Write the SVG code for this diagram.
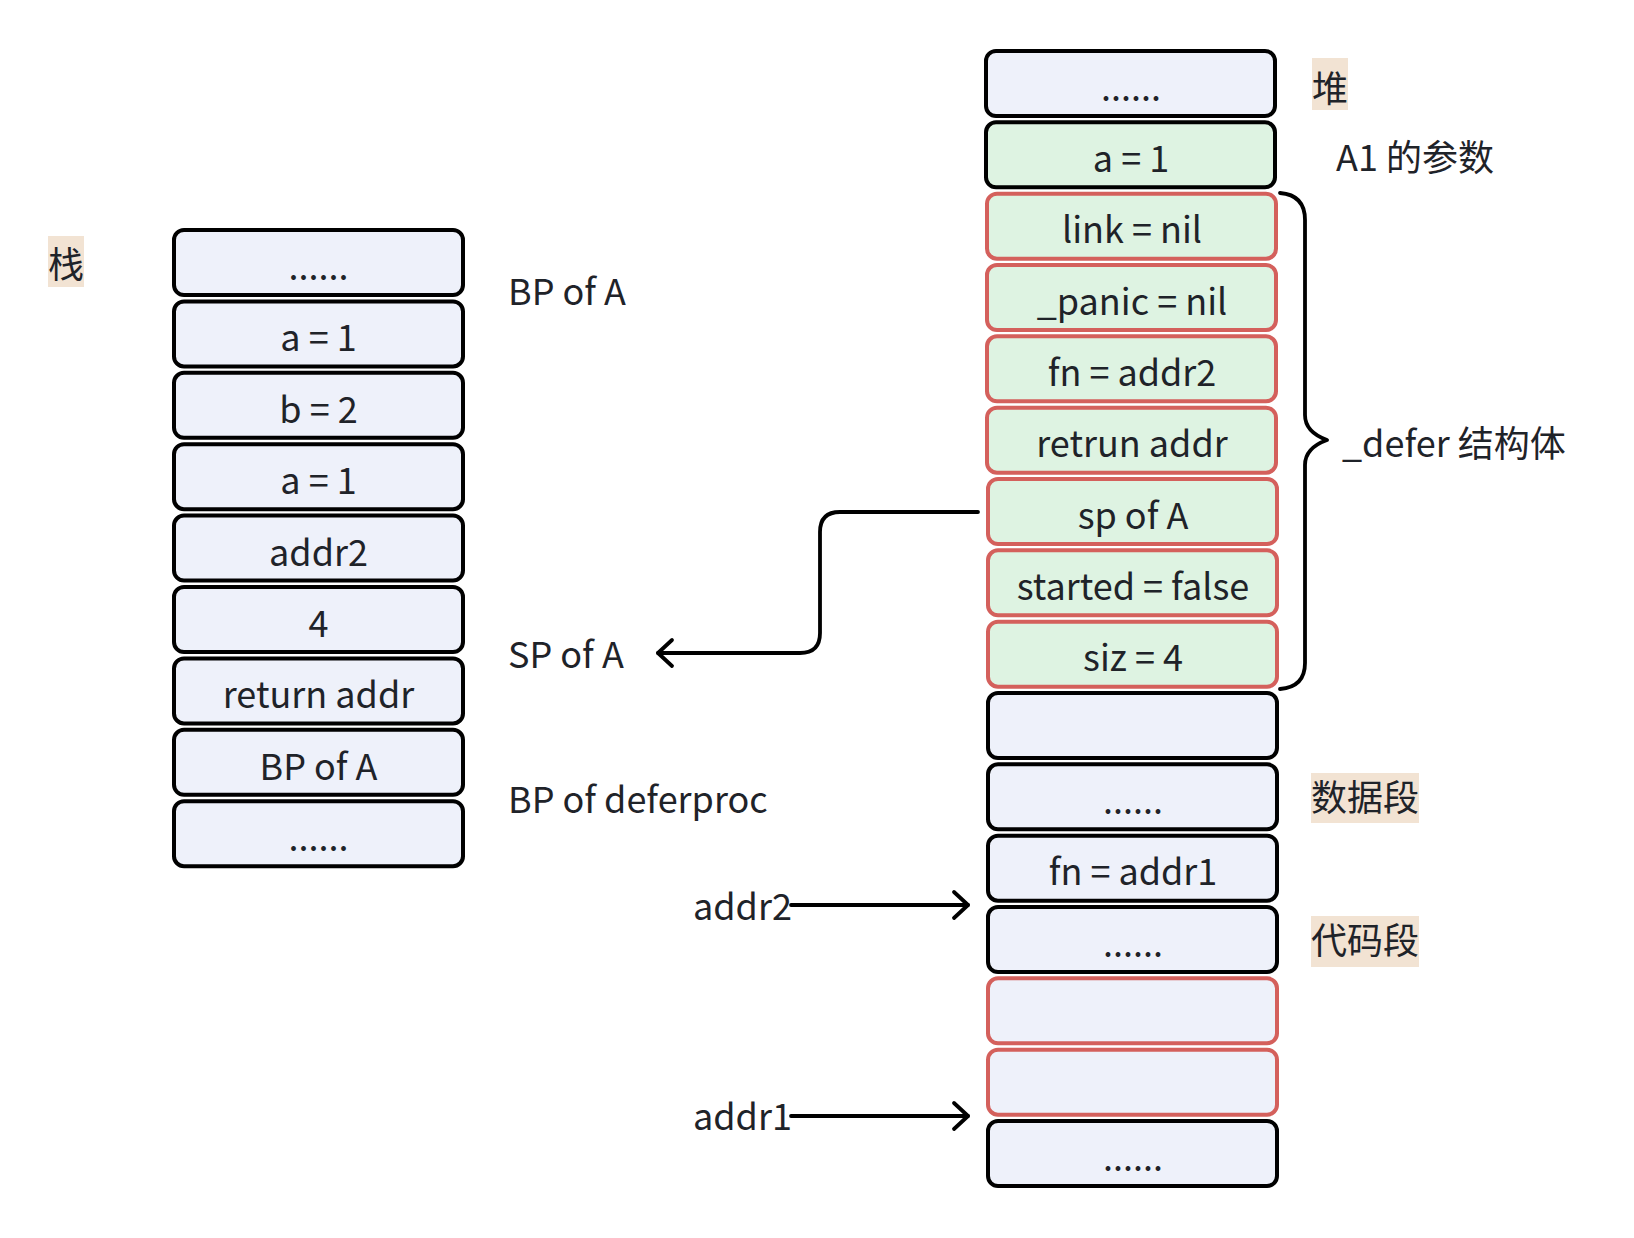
<svg xmlns="http://www.w3.org/2000/svg" width="1634" height="1238" viewBox="0 0 1634 1238">
<style>
text{font-family:"Noto Sans CJK SC","Noto Sans",sans-serif;fill:#1f2329;font-size:36px}
.c{text-anchor:middle}
.b{fill:#eef1fa;stroke:#000;stroke-width:4}
.g{fill:#def3e2;stroke:#000;stroke-width:4}
.rg{fill:#def3e2;stroke:#d4605c;stroke-width:4}
.rb{fill:#eef1fa;stroke:#d4605c;stroke-width:4}
.tag{fill:#f2e3d3}
.cj{font-size:36px}
.ln{fill:none;stroke:#000;stroke-width:3.8;stroke-linecap:round;stroke-linejoin:round}
</style>
<rect width="1634" height="1238" fill="#fff"/>
<g id="stack">
<g id="s0"><rect class="b" x="174" y="230" width="289" height="65" rx="10"/><text class="c" x="318.5" y="280">......</text></g>
<g id="s1"><rect class="b" x="174" y="301.4" width="289" height="65" rx="10"/><text class="c" x="318.5" y="351.4">a = 1</text></g>
<g id="s2"><rect class="b" x="174" y="372.8" width="289" height="65" rx="10"/><text class="c" x="318.5" y="422.8">b = 2</text></g>
<g id="s3"><rect class="b" x="174" y="444.2" width="289" height="65" rx="10"/><text class="c" x="318.5" y="494.2">a = 1</text></g>
<g id="s4"><rect class="b" x="174" y="515.6" width="289" height="65" rx="10"/><text class="c" x="318.5" y="565.6">addr2</text></g>
<g id="s5"><rect class="b" x="174" y="587" width="289" height="65" rx="10"/><text class="c" x="318.5" y="637">4</text></g>
<g id="s6"><rect class="b" x="174" y="658.4" width="289" height="65" rx="10"/><text class="c" x="318.5" y="708.4">return addr</text></g>
<g id="s7"><rect class="b" x="174" y="729.8" width="289" height="65" rx="10"/><text class="c" x="318.5" y="779.8">BP of A</text></g>
<g id="s8"><rect class="b" x="174" y="801.2" width="289" height="65" rx="10"/><text class="c" x="318.5" y="851.2">......</text></g>
</g>
<g id="heap">
<g id="h0"><rect class="b" x="986" y="51" width="289" height="65" rx="10"/><text class="c" x="1131" y="100.5">......</text></g>
<g id="h1"><rect class="g" x="986" y="122.3" width="289" height="65" rx="10"/><text class="c" x="1131" y="171.8">a = 1</text></g>
<g id="h2"><rect class="rg" x="987" y="193.7" width="289" height="65" rx="10"/><text class="c" x="1132" y="243.2">link = nil</text></g>
<g id="h3"><rect class="rg" x="987" y="265" width="289" height="65" rx="10"/><text class="c" x="1132" y="314.5">_panic = nil</text></g>
<g id="h4"><rect class="rg" x="987" y="336.3" width="289" height="65" rx="10"/><text class="c" x="1132" y="385.8">fn = addr2</text></g>
<g id="h5"><rect class="rg" x="987" y="407.7" width="289" height="65" rx="10"/><text class="c" x="1132" y="457.2">retrun addr</text></g>
<g id="h6"><rect class="rg" x="988" y="479" width="289" height="65" rx="10"/><text class="c" x="1133" y="528.5">sp of A</text></g>
<g id="h7"><rect class="rg" x="988" y="550.3" width="289" height="65" rx="10"/><text class="c" x="1133" y="599.8">started = false</text></g>
<g id="h8"><rect class="rg" x="988" y="621.7" width="289" height="65" rx="10"/><text class="c" x="1133" y="671.2">siz = 4</text></g>
<g id="h9"><rect class="b" x="988" y="693" width="289" height="65" rx="10"/></g>
<g id="h10"><rect class="b" x="988" y="764.3" width="289" height="65" rx="10"/><text class="c" x="1133" y="813.8">......</text></g>
<g id="h11"><rect class="b" x="988" y="835.7" width="289" height="65" rx="10"/><text class="c" x="1133" y="885.2">fn = addr1</text></g>
<g id="h12"><rect class="b" x="988" y="907" width="289" height="65" rx="10"/><text class="c" x="1133" y="956.5">......</text></g>
<g id="h13"><rect class="rb" x="988" y="978.3" width="289" height="65" rx="10"/></g>
<g id="h14"><rect class="rb" x="988" y="1049.7" width="289" height="65" rx="10"/></g>
<g id="h15"><rect class="b" x="988" y="1121" width="289" height="65" rx="10"/><text class="c" x="1133" y="1170.5">......</text></g>
</g>
<g id="labels">
<g id="l-zhan"><rect class="tag" x="48" y="236" width="36" height="51"/><text class="cj c" x="66" y="278">栈</text></g>
<g id="l-dui"><rect class="tag" x="1312" y="58" width="36" height="52"/><text class="cj c" x="1330" y="102">堆</text></g>
<g id="l-data"><rect class="tag" x="1311" y="773" width="108" height="50"/><text class="cj c" x="1365" y="811">数据段</text></g>
<g id="l-code"><rect class="tag" x="1311" y="916" width="108" height="51"/><text class="cj c" x="1365" y="954">代码段</text></g>
<text x="1336" y="171">A1 的参数</text>
<text x="1342" y="457">_defer 结构体</text>
<text x="508" y="305">BP of A</text>
<text x="508" y="668">SP of A</text>
<text x="508" y="813">BP of deferproc</text>
<text x="693" y="920">addr2</text>
<text x="693" y="1130">addr1</text>
</g>
<g id="connectors">
<path class="ln" d="M1280 193 Q1305 195 1305 220 V415 Q1305 432 1327 440 Q1305 448 1305 465 V663 Q1305 687 1280 689"/>
<path class="ln" d="M978 512 H840 Q820 512 820 532 V633 Q820 653 800 653 H658"/>
<path class="ln" d="M672 640 L658 653 L672 666"/>
<path class="ln" d="M791 905 H968"/>
<path class="ln" d="M954 892 L968 905 L954 918"/>
<path class="ln" d="M791 1116 H968"/>
<path class="ln" d="M954 1103 L968 1116 L954 1129"/>
</g>
</svg>
